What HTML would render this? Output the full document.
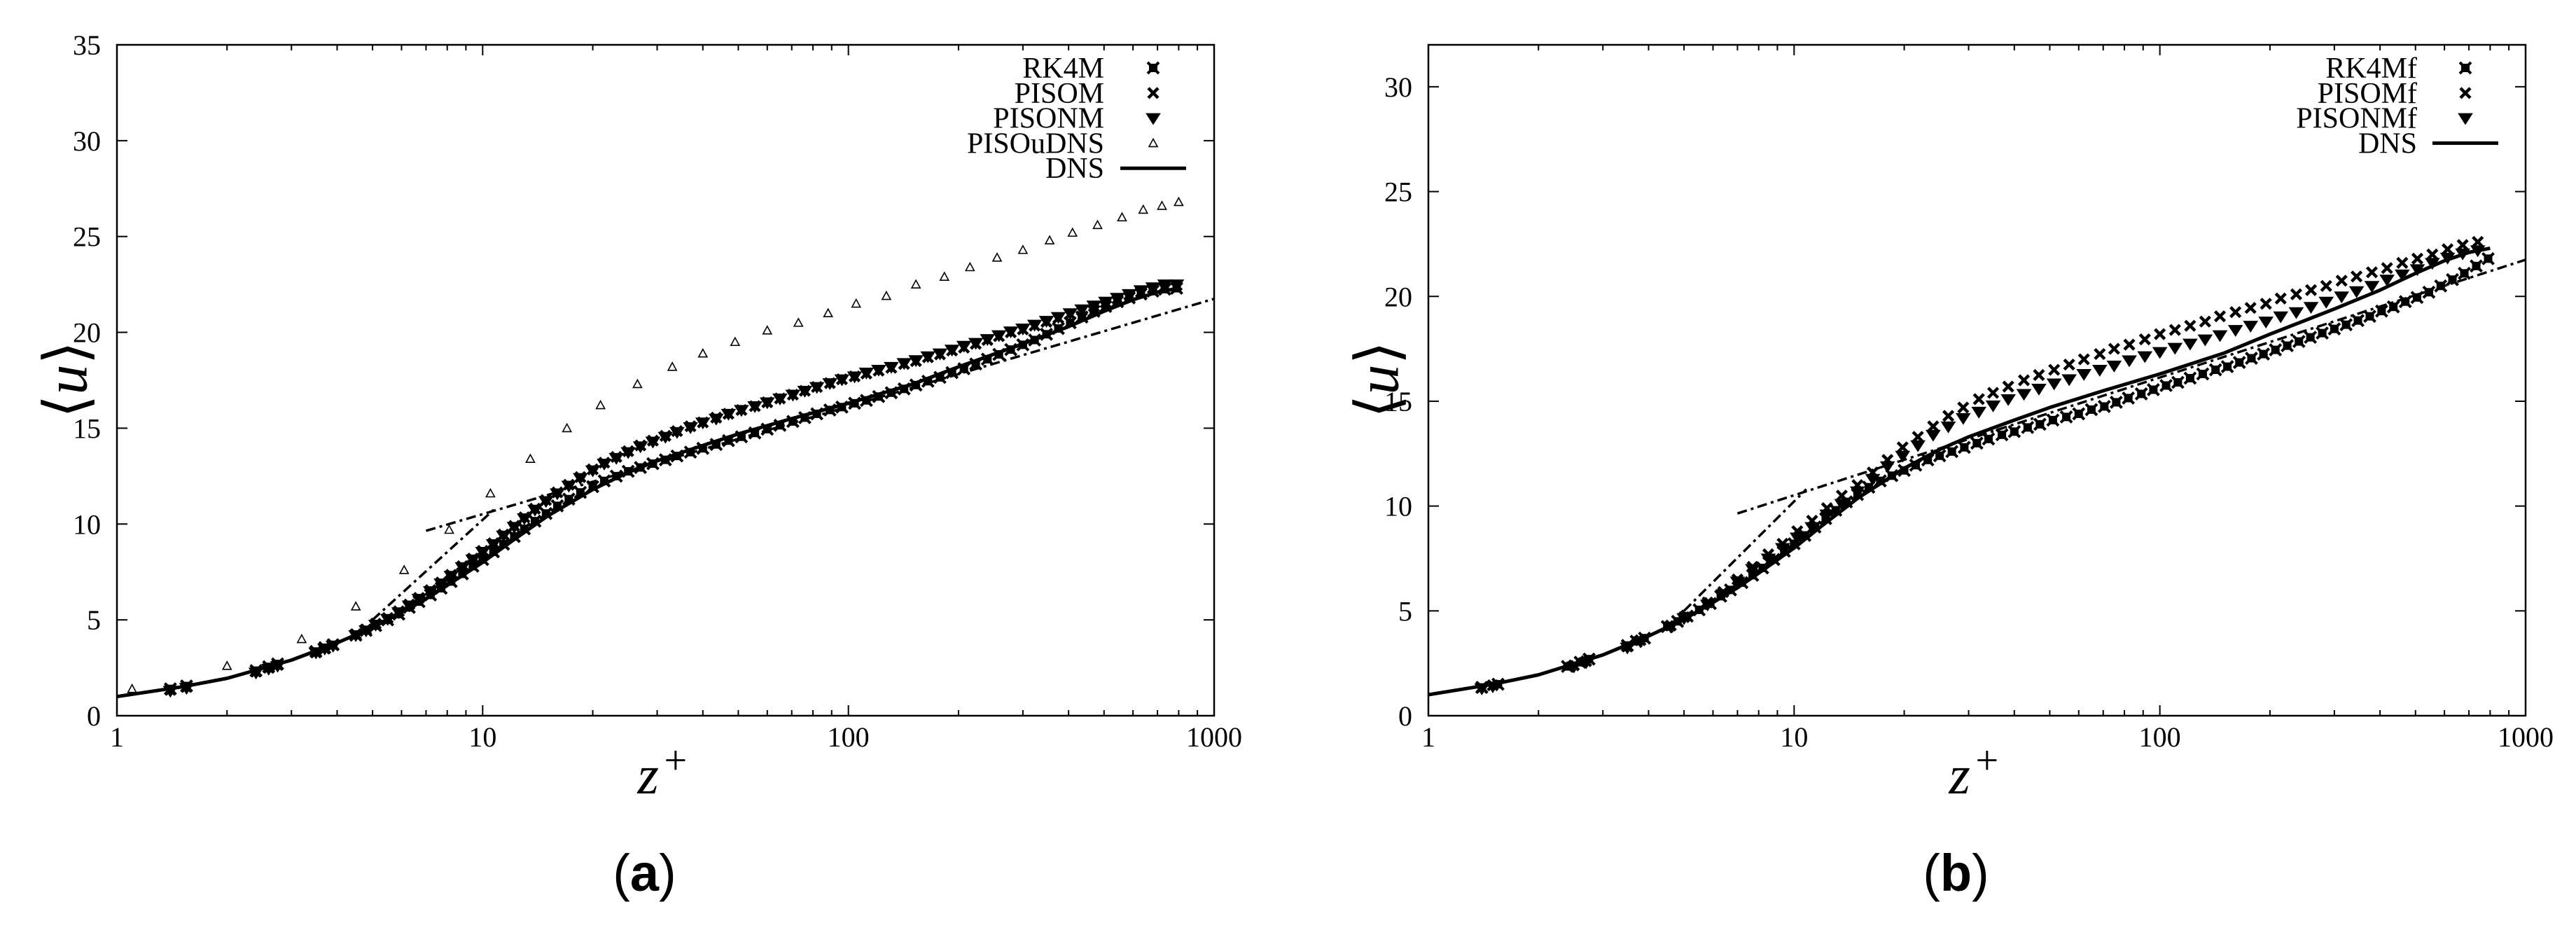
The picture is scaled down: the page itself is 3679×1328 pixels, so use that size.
<!DOCTYPE html>
<html><head><meta charset="utf-8">
<style>
html,body{margin:0;padding:0;background:#fff;}
svg{display:block;}
text{font-family:"Liberation Serif",serif;fill:#000;}
</style></head>
<body>
<svg id="fig" xmlns="http://www.w3.org/2000/svg" width="3679" height="1328" viewBox="0 0 3679 1328"></svg>
<script>
// ---- data ----
const zGrid = [1.4,1.55,2.4,2.6,2.75,3.5,3.7,3.9,4.5,4.8,
5.1,5.5,5.9,6.3,6.7,7.2,7.7,8.2,8.8,9.4,
10,10.7,11.4,12.2,13,13.9,14.9,16,17.2,18.5,
20,21.5,23.2,25,27,29.2,31.6,34,37,40,
43.5,47,51,55.5,60,65,70.5,76,82,89,
96,104,112,121,131,142,153,165,178,192,
207,223,240,258,278,300,323,348,375,404,
435,469,505,544,586,631,680,733,790];
const uRK4M = [1.4,1.55,2.35,2.55,2.7,3.35,3.55,3.7,4.2,4.45,
4.7,5.0,5.3,5.65,5.95,6.3,6.65,7.0,7.4,7.8,
8.15,8.55,8.95,9.35,9.75,10.15,10.55,10.95,11.3,11.65,
11.95,12.25,12.5,12.75,12.95,13.15,13.35,13.55,13.75,13.95,
14.15,14.35,14.55,14.75,14.95,15.15,15.35,15.55,15.75,15.95,
16.1,16.3,16.45,16.65,16.85,17.05,17.25,17.45,17.65,17.9,
18.1,18.35,18.6,18.85,19.1,19.35,19.6,19.9,20.2,20.5,
20.8,21.1,21.35,21.6,21.8,22.0,22.15,22.25,22.3];
const uPISOM = [1.35,1.5,2.3,2.5,2.65,3.3,3.5,3.7,4.25,4.5,
4.8,5.1,5.45,5.8,6.15,6.55,6.95,7.35,7.8,8.2,
8.6,9.0,9.45,9.9,10.35,10.8,11.25,11.65,12.05,12.45,
12.85,13.2,13.5,13.8,14.1,14.35,14.6,14.85,15.1,15.3,
15.55,15.75,15.95,16.15,16.35,16.55,16.75,16.95,17.15,17.35,
17.55,17.7,17.85,18.0,18.15,18.35,18.5,18.7,18.85,19.05,
19.2,19.4,19.6,19.8,20.0,20.15,20.35,20.55,20.75,20.95,
21.15,21.35,21.55,21.75,21.95,22.1,22.3,22.4,22.45];
const uPISONM = [1.3,1.45,2.25,2.45,2.6,3.3,3.5,3.65,4.2,4.45,
4.75,5.05,5.4,5.75,6.1,6.5,6.9,7.3,7.75,8.15,
8.55,8.95,9.4,9.85,10.3,10.75,11.2,11.6,12.0,12.4,
12.8,13.15,13.45,13.75,14.05,14.3,14.55,14.8,15.05,15.3,
15.5,15.75,15.95,16.15,16.35,16.55,16.75,16.95,17.15,17.35,
17.55,17.7,17.9,18.05,18.2,18.4,18.55,18.75,18.9,19.1,
19.3,19.45,19.65,19.85,20.05,20.2,20.4,20.6,20.8,21.0,
21.2,21.4,21.6,21.8,22.0,22.2,22.35,22.5,22.5];
const zUDNS = [1.1,2,3.2,4.5,6.1,8.1,10.5,13.5,17,21,26.5,33,40,49,60,73,88,105,127,153,183,215,255,300,355,410,480,560,640,720,800];
const uUDNS = [1.4,2.6,4.0,5.7,7.6,9.7,11.6,13.4,15.0,16.2,17.3,18.2,18.9,19.5,20.1,20.5,21.0,21.5,21.9,22.5,22.9,23.4,23.9,24.3,24.8,25.2,25.6,26.0,26.4,26.6,26.8];
const zDNS = [1,1.5,2,3,4,5,6,7,8,10,12,15,20,25,30,40,50,70,100,150,200,300,400,500,600,700,800];
const uDNS = [1,1.5,1.95,2.9,3.8,4.6,5.4,6.1,6.8,8.0,9.1,10.4,11.8,12.7,13.3,14.1,14.7,15.5,16.3,17.3,18.2,19.4,20.3,21.1,21.7,22.1,22.3];
const uRK4Mf = [1.35,1.5,2.35,2.55,2.7,3.35,3.55,3.7,4.25,4.5,
4.75,5.05,5.35,5.7,6.0,6.35,6.7,7.05,7.45,7.85,
8.2,8.6,9.0,9.4,9.8,10.2,10.55,10.9,11.2,11.45,
11.7,11.95,12.2,12.4,12.6,12.8,13.0,13.2,13.4,13.55,
13.75,13.9,14.1,14.25,14.4,14.6,14.75,14.95,15.15,15.35,
15.55,15.75,15.9,16.1,16.3,16.5,16.65,16.85,17.05,17.25,
17.45,17.65,17.85,18.05,18.25,18.45,18.65,18.85,19.05,19.3,
19.5,19.75,19.95,20.2,20.5,20.8,21.1,21.45,21.8];
const zCoarse = [1.4,1.5,2.5,2.7,3.5,3.8,4.6,5.0,5.8,6.4,7.0,7.7,8.5,9.3,10.2,11.2,12.3,13.5,14.9,16.4,18,19.8,21.8,24,26.4,29,32,35,38.5,42.5,46.7,51.4,56.5,62,68.5,75,82.5,91,100,110,121,133,146,161,177,195,214,236,259,285,314,345,380,418,460,506,556,612,673,740];
const uPISOMf = [1.35,1.45,2.4,2.6,3.3,3.6,4.3,4.7,5.4,5.9,6.5,7.1,7.7,8.2,8.8,9.3,9.9,10.5,11.0,11.6,12.2,12.8,13.3,13.8,14.3,14.7,15.1,15.4,15.7,16.0,16.25,16.5,16.75,17.0,17.25,17.5,17.7,17.95,18.2,18.4,18.6,18.8,19.05,19.25,19.45,19.65,19.9,20.1,20.3,20.5,20.75,20.95,21.15,21.35,21.6,21.8,22.0,22.25,22.45,22.6];
const uPISONMf = [1.3,1.4,2.35,2.55,3.25,3.55,4.25,4.65,5.3,5.8,6.4,7.0,7.5,8.0,8.5,9.0,9.6,10.1,10.7,11.3,11.9,12.4,12.9,13.4,13.8,14.2,14.5,14.8,15.1,15.35,15.6,15.85,16.05,16.3,16.5,16.7,16.95,17.15,17.35,17.55,17.75,17.95,18.15,18.4,18.6,18.8,19.05,19.25,19.5,19.75,20.0,20.25,20.5,20.8,21.05,21.3,21.6,21.85,22.05,22.2];
const zVisc = [5,10.8];
const zLog = [7,1000];
const xTicks = [1,10,100,1000];
const yTicksA = [0,5,10,15,20,25,30,35];
const yTicksB = [0,5,10,15,20,25,30];

const NS="http://www.w3.org/2000/svg";
const svg=document.getElementById('fig');
function mk(tag,attrs,parent){const e=document.createElementNS(NS,tag);for(const k in attrs)e.setAttribute(k,attrs[k]);(parent||svg).appendChild(e);return e;}

function drawMarker(g,type,x,y){
  let e;
  if(type==='boxx'){
    e=mk('g',{},g);
    mk('rect',{x:x-6,y:y-6,width:12,height:12,fill:'#000'},e);
    mk('path',{d:`M${x-8} ${y-8}L${x+8} ${y+8}M${x+8} ${y-8}L${x-8} ${y+8}`,stroke:'#000','stroke-width':4},e);
  }else if(type==='x'){
    e=mk('path',{d:`M${x-7} ${y-7}L${x+7} ${y+7}M${x+7} ${y-7}L${x-7} ${y+7}`,stroke:'#000','stroke-width':4.5,fill:'none'},g);
  }else if(type==='tri'){
    e=mk('path',{d:`M${x-9} ${y-6}L${x+9} ${y-6}L${x} ${y+8}Z`,fill:'#000',stroke:'#000','stroke-width':2},g);
  }else{
    e=mk('path',{d:`M${x-6} ${y+5}L${x+6} ${y+5}L${x} ${y-6}Z`,fill:'none',stroke:'#000','stroke-width':1.6},g);
  }
  return e;
}

function panel(id,x0,x1,yTop,yBot,ymax,yTicks,series,legendTextRight,legendMarkX,labelText){
  const g=mk('g',{});
  
  
  const X=z=>x0+Math.log10(z)/3*(x1-x0);
  const Y=u=>yBot-u/ymax*(yBot-yTop);
  const tg=mk('g',{stroke:'#000','stroke-width':2},g);
  
  
  for(let d=0;d<3;d++)for(let m=1;m<=9;m++){
    const v=Math.pow(10,d)*m; if(v===1)continue;
    const xx=X(v), L=(m===1)?15:8;
    mk('line',{x1:xx,y1:yBot,x2:xx,y2:yBot-L},tg);
    mk('line',{x1:xx,y1:yTop,x2:xx,y2:yTop+L},tg);
  }
  yTicks.forEach(t=>{
    const yy=Y(t);
    mk('line',{x1:x0,y1:yy,x2:x0+15,y2:yy},tg);
    mk('line',{x1:x1,y1:yy,x2:x1-15,y2:yy},tg);
    const tx=mk('text',{x:x0-23,y:yy+14,'font-size':40,'text-anchor':'end'},g);
    
    
    tx.textContent=t;
  });
  xTicks.forEach(t=>{
    const tx=mk('text',{x:X(t),y:1066,'font-size':40,'text-anchor':'middle'},g);
    
    
    tx.textContent=t;
  });
  const fr=mk('rect',{x:x0,y:yTop,width:x1-x0,height:yBot-yTop,fill:'none',stroke:'#000','stroke-width':2.5},g);
  
  
  const cp=mk('clipPath',{id:'clip-'+id},g);
  mk('rect',{x:x0,y:yTop,width:x1-x0,height:yBot-yTop},cp);
  const pg=mk('g',{'clip-path':`url(#clip-${id})`},g);
  const visc=mk('line',{x1:X(zVisc[0]),y1:Y(zVisc[0]),x2:X(zVisc[1]),y2:Y(zVisc[1]),stroke:'#000','stroke-width':3.5,'stroke-dasharray':'14 6 4 6'},pg);
  
  
  const lp=zLog.map(z=>`${X(z)},${Y(Math.log(z)/0.41+4.9)}`).join(' ');
  const logl=mk('polyline',{points:lp,fill:'none',stroke:'#000','stroke-width':3.5,'stroke-dasharray':'14 6 4 6'},pg);
  
  
  const dp=zDNS.map((z,i)=>`${X(z)},${Y(uDNS[i])}`).join(' ');
  const dl=mk('polyline',{points:dp,fill:'none',stroke:'#000','stroke-width':5,'stroke-linejoin':'round'},pg);
  
  
  series.forEach(s=>{
    const sg=mk('g',{},pg);
    
    
    s.z.forEach((z,i)=>{
      const m=drawMarker(sg,s.type,X(z),Y(s.u[i]));
      
      
    });
  });
  const lg=mk('g',{},g);
  
  
  const rows=series.map(s=>({label:s.label,type:s.type})).concat([{label:'DNS',type:'line'}]);
  rows.forEach((r,i)=>{
    const yy=97+i*35.8;
    const en=mk('g',{},lg);
    
    
    const t=mk('text',{x:legendTextRight,y:yy+14,'font-size':42,'text-anchor':'end'},en);
    t.textContent=r.label;
    if(r.type==='line')mk('line',{x1:legendMarkX-47,y1:yy,x2:legendMarkX+47,y2:yy,stroke:'#000','stroke-width':5},en);
    else drawMarker(en,r.type,legendMarkX,yy);
  });
  const cx=(x0+x1)/2;
  const xt=mk('text',{x:cx-40,y:1133,'font-size':78,'font-style':'italic'},g);
  
  
  xt.textContent='z';
  const xp=mk('text',{x:cx-2,y:1105,'font-size':58},g);
  
  
  xp.textContent='+';
  const yt=mk('text',{x:0,y:0,'font-size':86,'text-anchor':'middle',transform:`translate(${x0-72},542) rotate(-90)`,dy:'0.33em'},g);
  
  
  yt.textContent='\u27E8';
  const ts=mk('tspan',{'font-style':'italic'},yt);ts.textContent='u';
  const ts2=mk('tspan',{},yt);ts2.textContent='\u27E9';
  const pl=mk('text',{x:cx-30,y:1272,'font-size':74,'text-anchor':'middle',style:'font-family:"Liberation Sans",sans-serif'},g);
  
  
  pl.textContent='(';
  const pb=mk('tspan',{'font-weight':'bold'},pl);pb.textContent=labelText;
  const pc=mk('tspan',{},pl);pc.textContent=')';
}

panel('panel-a',167,1734,64,1022,35,yTicksA,[
  {name:'rk4m',label:'RK4M',type:'boxx',z:zGrid,u:uRK4M},
  {name:'pisom',label:'PISOM',type:'x',z:zGrid,u:uPISOM},
  {name:'pisonm',label:'PISONM',type:'tri',z:zGrid,u:uPISONM},
  {name:'pisoudns',label:'PISOuDNS',type:'otri',z:zUDNS,u:uUDNS}
],1577,1647,'a');
panel('panel-b',2040,3607,64,1022,32,yTicksB,[
  {name:'rk4mf',label:'RK4Mf',type:'boxx',z:zGrid,u:uRK4Mf},
  {name:'pisomf',label:'PISOMf',type:'x',z:zCoarse,u:uPISOMf},
  {name:'pisonmf',label:'PISONMf',type:'tri',z:zCoarse,u:uPISONMf}
],3452,3521,'b');
</script>
</body></html>
